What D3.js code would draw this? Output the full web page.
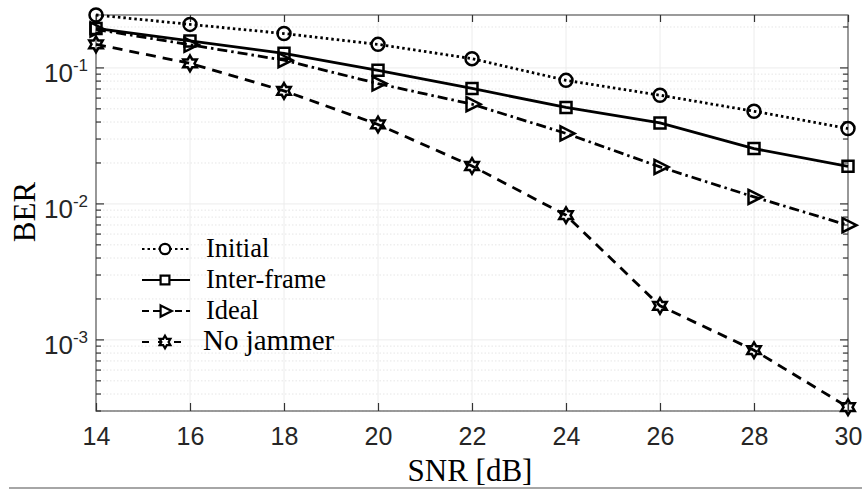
<!DOCTYPE html>
<html>
<head>
<meta charset="utf-8">
<script src="https://cdn.jsdelivr.net/npm/d3@7/dist/d3.min.js"></script>
<style>
  html, body { margin: 0; padding: 0; background: #fff; }
  svg { display: block; }
</style>
</head>
<body>
<svg id="chart" width="862" height="490"></svg>
<script>
// ---- data ----
const snr = [14, 16, 18, 20, 22, 24, 26, 28, 30];
const initialBER    = [0.245, 0.209, 0.179, 0.149, 0.117, 0.081, 0.063, 0.048, 0.0358];
const interFrameBER = [0.195, 0.158, 0.128, 0.096, 0.0706, 0.0512, 0.0394, 0.0255, 0.0189];
const idealBER      = [0.192, 0.148, 0.114, 0.0767, 0.0541, 0.033, 0.0187, 0.01125, 0.00697];
const noJammerBER   = [0.149, 0.108, 0.0678, 0.0384, 0.019, 0.00826, 0.00178, 0.00084, 0.00032];
const seriesNames = ["Initial", "Inter-frame", "Ideal", "No jammer"];
const xTicks = [14, 16, 18, 20, 22, 24, 26, 28, 30];
const yMajorTicks = [1e-3, 1e-2, 1e-1];
const yTickExponents = ["-3", "-2", "-1"];
const xLabel = "SNR [dB]";
const yLabel = "BER";

// ---- layout ----
const L = 96, R = 848, T = 15, B = 411;
const svg = d3.select("#chart");
const x = d3.scaleLinear().domain([14, 30]).range([L, R]);
const y = d3.scaleLog().domain([3e-4, 0.245]).range([B, T]);

// minor ticks
const yMinor = [];
[1e-4, 1e-3, 1e-2, 1e-1].forEach(d => {
  for (let k = 2; k <= 9; k++) {
    const v = d * k;
    if (v >= y.domain()[0] && v <= y.domain()[1]) yMinor.push(v);
  }
});

// ---- grid ----
const grid = svg.append("g");
grid.selectAll(".gx").data(xTicks).enter().append("line")
  .attr("x1", d => x(d)).attr("x2", d => x(d)).attr("y1", T).attr("y2", B)
  .attr("stroke", "#ececec").attr("stroke-width", 1);
grid.selectAll(".gym").data(yMinor).enter().append("line")
  .attr("x1", L).attr("x2", R).attr("y1", d => y(d)).attr("y2", d => y(d))
  .attr("stroke", "#e6e6e6").attr("stroke-width", 1).attr("stroke-dasharray", "1.5 2");
grid.selectAll(".gy").data(yMajorTicks).enter().append("line")
  .attr("x1", L).attr("x2", R).attr("y1", d => y(d)).attr("y2", d => y(d))
  .attr("stroke", "#ececec").attr("stroke-width", 1);

// ---- axes (box with inward ticks) ----
const axisColor = "#666";
svg.append("rect").attr("x", L).attr("y", T).attr("width", R - L).attr("height", B - T)
  .attr("fill", "none").attr("stroke", axisColor).attr("stroke-width", 1.3);

const bottomAxis = d3.axisBottom(x).tickValues(xTicks).tickSize(-8).tickFormat(d3.format("d")).tickPadding(16);
const gB = svg.append("g").attr("transform", `translate(0,${B})`).call(bottomAxis);
gB.select(".domain").remove();
gB.selectAll(".tick line").attr("stroke", "#333").attr("stroke-width", 1.2);
gB.selectAll(".tick text").attr("font-family", "Liberation Sans, Arial, sans-serif")
  .attr("font-size", 25).attr("fill", "#262626");

const topAxis = d3.axisTop(x).tickValues(xTicks).tickSize(-7).tickFormat("");
const gT = svg.append("g").attr("transform", `translate(0,${T})`).call(topAxis);
gT.select(".domain").remove();
gT.selectAll(".tick line").attr("stroke", "#333").attr("stroke-width", 1.2);

function yTickLines(side) {
  const dir = side === "left" ? 1 : -1;
  const x0 = side === "left" ? L : R;
  const g = svg.append("g");
  g.selectAll(".maj").data(yMajorTicks).enter().append("line")
    .attr("x1", x0).attr("x2", x0 + dir * 8).attr("y1", d => y(d)).attr("y2", d => y(d))
    .attr("stroke", "#333").attr("stroke-width", 1.2);
  g.selectAll(".min").data(yMinor).enter().append("line")
    .attr("x1", x0).attr("x2", x0 + dir * 5).attr("y1", d => y(d)).attr("y2", d => y(d))
    .attr("stroke", "#333").attr("stroke-width", 1.2);
}
yTickLines("left");
yTickLines("right");

// y tick labels 10^n
const yl = svg.append("g");
yMajorTicks.forEach((v, i) => {
  const t = yl.append("text")
    .attr("x", 88).attr("y", y(v) + 14)
    .attr("text-anchor", "end")
    .attr("font-family", "Liberation Sans, Arial, sans-serif")
    .attr("fill", "#262626");
  t.append("tspan").attr("font-size", 26).text("10");
  t.append("tspan").attr("font-size", 17).attr("dy", -11).text(yTickExponents[i]);
});

// axis labels
svg.append("text").attr("x", 470).attr("y", 481).attr("text-anchor", "middle")
  .attr("font-family", "Liberation Serif, 'Times New Roman', serif").attr("font-size", 31)
  .attr("fill", "#000").text(xLabel);
svg.append("text").attr("transform", "translate(35,212) rotate(-90)").attr("text-anchor", "middle")
  .attr("font-family", "Liberation Serif, 'Times New Roman', serif").attr("font-size", 31)
  .attr("fill", "#000").text(yLabel);

// bottom separator line
svg.append("line").attr("x1", 9).attr("x2", 862).attr("y1", 488).attr("y2", 488)
  .attr("stroke", "#888").attr("stroke-width", 1.5);

// ---- marker shapes ----
function markerPath(type, s) {
  if (type === "circle") {
    const r = 6.5 * s;
    return `M${-r},0A${r},${r} 0 1,0 ${r},0A${r},${r} 0 1,0 ${-r},0Z`;
  }
  if (type === "square") {
    const h = 5.5 * s;
    return `M${-h},${-h}L${h},${-h}L${h},${h}L${-h},${h}Z`;
  }
  if (type === "triangle") {
    return `M${-5.5 * s},${-7 * s}L${8.5 * s},0L${-5.5 * s},${7 * s}Z`;
  }
  if (type === "hexagram") {
    const ro = 7.8 * s, ri = ro / Math.sqrt(3);
    const pts = [];
    for (let k = 0; k < 12; k++) {
      const a = -Math.PI / 2 + k * Math.PI / 6;
      const r = k % 2 === 0 ? ro : ri;
      pts.push([r * Math.cos(a), r * Math.sin(a)]);
    }
    return "M" + pts.map(p => p[0].toFixed(2) + "," + p[1].toFixed(2)).join("L") + "Z";
  }
}

const series = [
  { name: seriesNames[0], values: initialBER,    dash: "2.5 3",      legDash: "2.5 3",   marker: "circle" },
  { name: seriesNames[1], values: interFrameBER, dash: null,         legDash: null,      marker: "square" },
  { name: seriesNames[2], values: idealBER,      dash: "10 4 2.5 4", legDash: "7 4",     marker: "triangle" },
  { name: seriesNames[3], values: noJammerBER,   dash: "10 7",       legDash: "7 9",     marker: "hexagram" }
];

const line = d3.line().x((d, i) => x(snr[i])).y(d => y(d));
const plot = svg.append("g");
series.forEach(s => {
  plot.append("path").datum(s.values).attr("d", line)
    .attr("fill", "none").attr("stroke", "#000").attr("stroke-width", 2.8)
    .attr("stroke-dasharray", s.dash);
});
series.forEach(s => {
  plot.selectAll(null).data(s.values).enter().append("path")
    .attr("transform", (d, i) => `translate(${x(snr[i])},${y(d)})`)
    .attr("d", markerPath(s.marker, 1))
    .attr("fill", "none").attr("stroke", "#000").attr("stroke-width", 2.5)
    .attr("stroke-linejoin", "miter");
});

// ---- legend ----
const legendRows = [249, 280, 311, 342];
const legendText = [
  { x: 206, size: 26.5 }, { x: 206, size: 26.5 }, { x: 206, size: 26.5 }, { x: 203, size: 29 }
];
const lg = svg.append("g");
series.forEach((s, i) => {
  const yy = legendRows[i];
  lg.append("line").attr("x1", 142).attr("x2", 190).attr("y1", yy).attr("y2", yy)
    .attr("stroke", "#000").attr("stroke-width", 2.2)
    .attr("stroke-dasharray", s.legDash);
  lg.append("path").attr("transform", `translate(165,${yy})`)
    .attr("d", markerPath(s.marker, 0.8))
    .attr("fill", "#fff").attr("stroke", "#000").attr("stroke-width", 2.2);
  lg.append("text").attr("x", legendText[i].x).attr("y", yy + 8)
    .attr("font-family", "Liberation Serif, 'Times New Roman', serif")
    .attr("font-size", legendText[i].size).attr("fill", "#000").text(s.name);
});
</script>
</body>
</html>
